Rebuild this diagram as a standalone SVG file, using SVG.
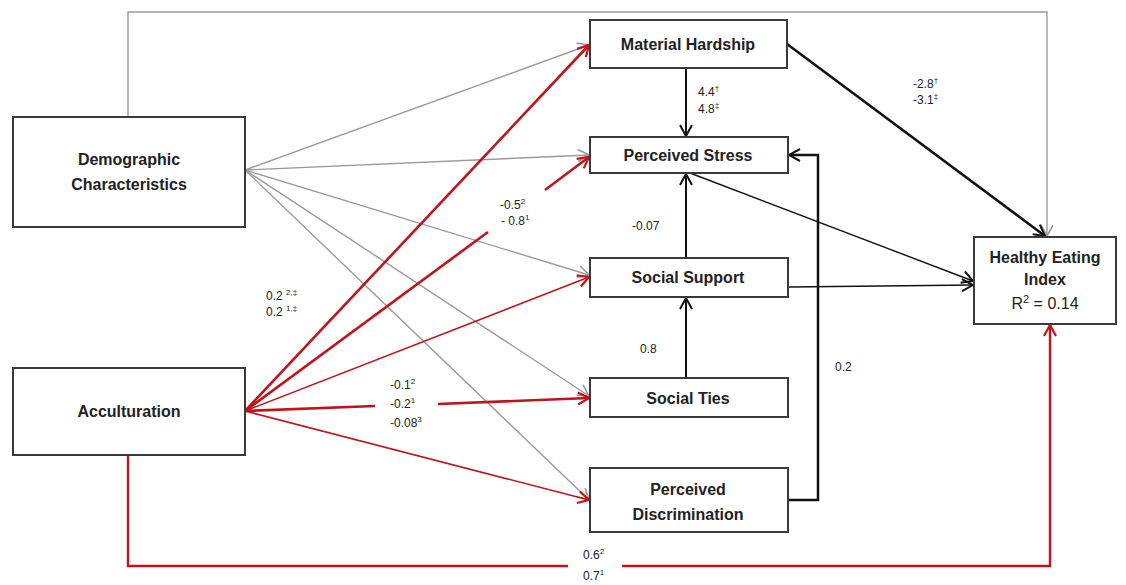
<svg xmlns="http://www.w3.org/2000/svg" width="1126" height="585" viewBox="0 0 1126 585">
<style>
.box{fill:#fff;stroke:#3a3a3a;stroke-width:2}
.lbl{font-family:"Liberation Sans",Arial,sans-serif;font-weight:bold;font-size:16px;fill:#222;text-anchor:middle}
.num{font-family:"Liberation Sans",Arial,sans-serif;font-size:12px;fill:#222}
.gray{fill:none;stroke:#9a9a9a;stroke-width:1.4}
.blk{fill:none;stroke:#111;stroke-width:1.4}
.blkT{fill:none;stroke:#111;stroke-width:2.5}
.red{fill:none;stroke:#c0141c;stroke-width:1.6}
.redT{fill:none;stroke:#c0141c;stroke-width:2.6}
</style>
<defs>
<marker id="aG" viewBox="0 0 14 14" refX="13" refY="7" markerWidth="14" markerHeight="14" markerUnits="userSpaceOnUse" orient="auto"><path d="M2,1 L13,7 L2,13" fill="none" stroke="#9a9a9a" stroke-width="1.6"/></marker>
<marker id="aB" viewBox="0 0 14 14" refX="13" refY="7" markerWidth="14" markerHeight="14" markerUnits="userSpaceOnUse" orient="auto"><path d="M2,1 L13,7 L2,13" fill="none" stroke="#111" stroke-width="2"/></marker>
<marker id="aR" viewBox="0 0 14 14" refX="13" refY="7" markerWidth="14" markerHeight="14" markerUnits="userSpaceOnUse" orient="auto"><path d="M2,1 L13,7 L2,13" fill="none" stroke="#c0141c" stroke-width="2.2"/></marker>
</defs>
<rect width="1126" height="585" fill="#fff"/>
<g id="connectors">
<path class="gray" d="M128,117 V12 H1047 V236" marker-end="url(#aG)"/>
<line class="gray" x1="245" y1="170" x2="589" y2="45" marker-end="url(#aG)"/>
<line class="gray" x1="245" y1="170" x2="589" y2="155" marker-end="url(#aG)"/>
<line class="gray" x1="245" y1="170" x2="589" y2="275" marker-end="url(#aG)"/>
<line class="gray" x1="245" y1="170" x2="589" y2="396" marker-end="url(#aG)"/>
<line class="gray" x1="245" y1="170" x2="589" y2="500" marker-end="url(#aG)"/>
<line class="redT" x1="245" y1="411" x2="589" y2="45" marker-end="url(#aR)"/>
<line class="redT" x1="245" y1="411" x2="488" y2="232"/>
<line class="redT" x1="545" y1="190" x2="589" y2="157" marker-end="url(#aR)"/>
<line class="red" x1="245" y1="411" x2="589" y2="277" marker-end="url(#aR)"/>
<line class="redT" x1="245" y1="411" x2="375" y2="406"/>
<line class="redT" x1="438" y1="404" x2="589" y2="398" marker-end="url(#aR)"/>
<line class="red" x1="245" y1="411" x2="589" y2="500" marker-end="url(#aR)"/>
<path class="red" d="M128,456 V566 H568" style="stroke-width:2.4"/>
<path class="red" d="M622,566 H1050 V325" marker-end="url(#aR)" style="stroke-width:2.4"/>
<line class="blkT" x1="686" y1="68" x2="686" y2="136" marker-end="url(#aB)" style="stroke-width:2"/>
<line class="blkT" x1="686" y1="258" x2="686" y2="174" marker-end="url(#aB)" style="stroke-width:2"/>
<line class="blkT" x1="686" y1="378" x2="686" y2="298" marker-end="url(#aB)" style="stroke-width:2"/>
<path class="blkT" d="M788,500 H818 V155 H789" marker-end="url(#aB)"/>
<line class="blkT" x1="787" y1="44" x2="1045" y2="236" marker-end="url(#aB)"/>
<line class="blk" x1="690" y1="173" x2="973" y2="281" marker-end="url(#aB)"/>
<line class="blk" x1="788" y1="287" x2="973" y2="285" marker-end="url(#aB)"/>
</g>
<g id="demographic"><rect class="box" x="13" y="117" width="232" height="110"/><text class="lbl" x="129" y="165">Demographic</text><text class="lbl" x="129" y="190">Characteristics</text></g>
<g id="acculturation"><rect class="box" x="13" y="368" width="232" height="87"/><text class="lbl" x="129" y="417">Acculturation</text></g>
<g id="material-hardship"><rect class="box" x="590" y="20" width="197" height="48"/><text class="lbl" x="688" y="50">Material Hardship</text></g>
<g id="perceived-stress"><rect class="box" x="590" y="137" width="198" height="36"/><text class="lbl" x="688" y="161">Perceived Stress</text></g>
<g id="social-support"><rect class="box" x="590" y="258" width="198" height="39"/><text class="lbl" x="688" y="283">Social Support</text></g>
<g id="social-ties"><rect class="box" x="590" y="378" width="198" height="39"/><text class="lbl" x="688" y="404">Social Ties</text></g>
<g id="perceived-discrimination"><rect class="box" x="590" y="468" width="198" height="64"/><text class="lbl" x="688" y="495">Perceived</text><text class="lbl" x="688" y="520">Discrimination</text></g>
<g id="hei"><rect class="box" x="974" y="237" width="142" height="87"/><text class="lbl" x="1045" y="263">Healthy Eating</text><text class="lbl" x="1045" y="285">Index</text><text class="lbl" x="1045" y="309" style="font-weight:normal">R<tspan dy="-6" font-size="11">2</tspan><tspan dy="6"> = 0.14</tspan></text></g>
<g id="labels">
<text class="num" x="698" y="96">4.4<tspan dy="-5" font-size="8">†</tspan></text>
<text class="num" x="698" y="113">4.8<tspan dy="-5" font-size="8">‡</tspan></text>
<text class="num" x="913" y="88">-2.8<tspan dy="-5" font-size="8">†</tspan></text>
<text class="num" x="913" y="104">-3.1<tspan dy="-5" font-size="8">‡</tspan></text>
<text class="num" x="500" y="209">-0.5<tspan dy="-5" font-size="8">2</tspan></text>
<text class="num" x="501" y="225">- 0.8<tspan dy="-5" font-size="8">1</tspan></text>
<text class="num" x="266" y="300">0.2 <tspan dy="-5" font-size="8">2,‡</tspan></text>
<text class="num" x="266" y="316">0.2 <tspan dy="-5" font-size="8">1,‡</tspan></text>
<text class="num" x="390" y="389">-0.1<tspan dy="-5" font-size="8">2</tspan></text>
<text class="num" x="390" y="408">-0.2<tspan dy="-5" font-size="8">1</tspan></text>
<text class="num" x="390" y="427">-0.08<tspan dy="-5" font-size="8">3</tspan></text>
<text class="num" x="632" y="230">-0.07</text>
<text class="num" x="640" y="353">0.8</text>
<text class="num" x="835" y="371">0.2</text>
<text class="num" x="583" y="559">0.6<tspan dy="-5" font-size="8">2</tspan></text>
<text class="num" x="583" y="580">0.7<tspan dy="-5" font-size="8">1</tspan></text>
</g>
</svg>
